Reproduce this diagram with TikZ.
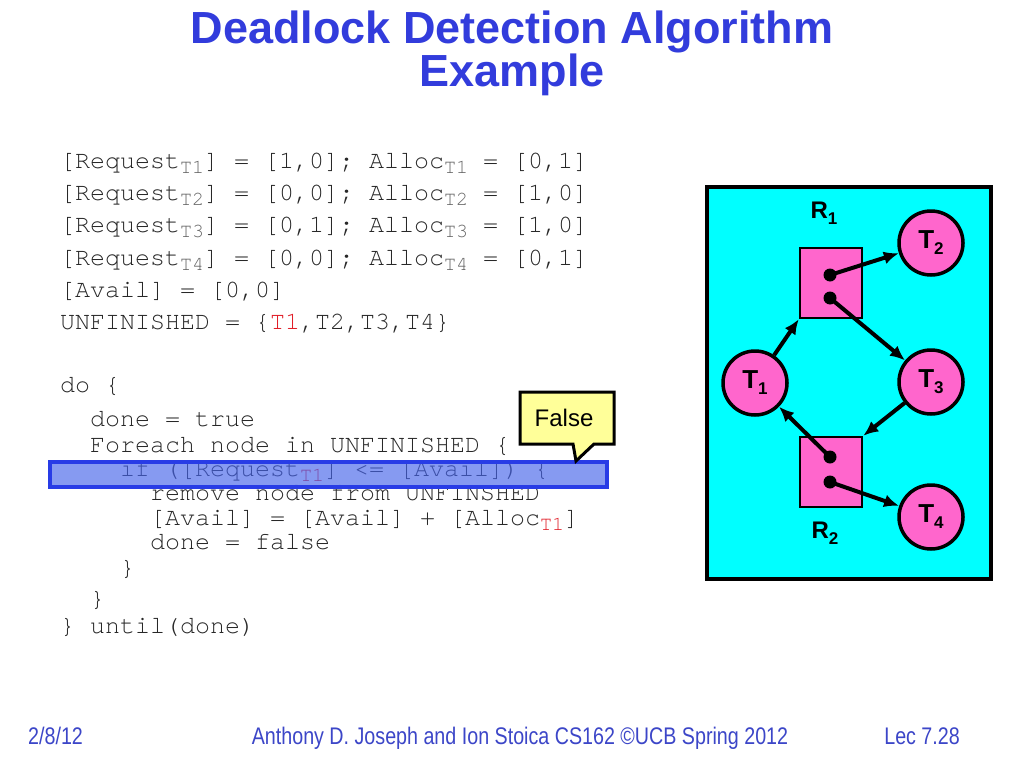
\documentclass[tikz,border=0pt]{standalone}
\usepackage{fontspec}
\setmainfont{Liberation Sans}
\newfontfamily\codefont{TeX Gyre Cursor}
\usetikzlibrary{arrows.meta}
\definecolor{titleblue}{RGB}{50,60,220}
\definecolor{footblue}{RGB}{60,70,200}
\definecolor{codegray}{RGB}{40,40,40}
\definecolor{subgray}{RGB}{100,100,100}
\definecolor{panelcyan}{RGB}{0,255,255}
\definecolor{nodepink}{RGB}{255,102,204}
\definecolor{hlblue}{RGB}{70,100,235}
\definecolor{hledge}{RGB}{40,60,230}
\definecolor{callyellow}{RGB}{255,255,153}
\definecolor{codered}{RGB}{225,30,40}
\newcommand{\codesub}[2][subgray]{\raisebox{-5pt}{\fontsize{20}{20}\selectfont\textcolor{#1}{#2}}}
\newcommand{\lblsub}[1]{\raisebox{-6pt}{\fontsize{17}{17}\selectfont #1}}
\tikzset{
  code/.style={anchor=base west, inner sep=0pt, text=codegray,
    font=\codefont\fontsize{25}{25}\selectfont},
  titletext/.style={anchor=base, inner sep=0pt, text=titleblue,
    font=\bfseries\fontsize{45}{45}\selectfont},
  foot/.style={inner sep=0pt, text=footblue, font=\fontsize{24}{24}\selectfont},
  proc/.style={circle, draw=black, line width=3.5pt, fill=nodepink,
    minimum size=64pt, inner sep=0pt, font=\bfseries\fontsize{26}{26}\selectfont},
  res/.style={rectangle, draw=black, line width=2.5pt, fill=nodepink,
    minimum width=62pt, minimum height=70pt, inner sep=0pt},
  rlabel/.style={inner sep=0pt, font=\bfseries\fontsize{24}{24}\selectfont},
  tok/.style={circle, fill=black, minimum size=13pt, inner sep=0pt},
  edge/.style={line width=4pt, -{Latex[length=15pt,width=13pt]}}
}
\begin{document}
\begin{tikzpicture}[x=1pt,y=-1pt]
\useasboundingbox[fill=white] (0,0) rectangle (1024,768);

% title
\node[titletext] (title1) at (512,44) {Deadlock Detection Algorithm};
\node[titletext] (title2) at (512,86) {Example};

% code: initial state
\node[code] (c1) at (60,168) {[Request\codesub{T1}] = [1,0]; Alloc\codesub{T1} = [0,1]};
\node[code] (c2) at (60,200) {[Request\codesub{T2}] = [0,0]; Alloc\codesub{T2} = [1,0]};
\node[code] (c3) at (60,232) {[Request\codesub{T3}] = [0,1]; Alloc\codesub{T3} = [1,0]};
\node[code] (c4) at (60,265) {[Request\codesub{T4}] = [0,0]; Alloc\codesub{T4} = [0,1]};
\node[code] (c5) at (60,297) {[Avail] = [0,0]};
\node[code] (c6) at (60,329) {UNFINISHED = \{\textcolor{codered}{T1},T2,T3,T4\}};

% code: loop
\node[code] (d1) at (60,392) {do \{};
\node[code] (d2) at (90,426) {done = true};
\node[code] (d3) at (90,452) {Foreach node in UNFINISHED \{};
\node[code] (d4) at (120,476) {if ([Request\codesub[codered]{T1}] <= [Avail]) \{};
\node[code] (d5) at (150,500) {remove node from UNFINSHED};
\node[code] (d6) at (150,525) {[Avail] = [Avail] + [Alloc\codesub[codered]{T1}]};
\node[code] (d7) at (150,549) {done = false};
\node[code] (d8) at (120,575) {\}};
\node[code] (d9) at (90,606) {\}};
\node[code] (d10) at (60,633) {\} until(done)};

% highlight bar
\draw[draw=hledge, line width=3.5pt, fill=hlblue, fill opacity=0.65] (50,462) rectangle (607,487);

% callout
\draw[line width=3pt, fill=callyellow, line join=miter]
  (520,392) -- (614,392) -- (614,444) -- (594,444) -- (576,461) -- (573,444) -- (520,444) -- cycle;
\node[inner sep=0pt, font=\fontsize{24}{24}\selectfont] (false) at (564,418) {False};

% right panel
\draw[line width=3.5pt, fill=panelcyan] (707,187) rectangle (991,579);
\node[res] (R1) at (831,283) {};
\node[res] (R2) at (831,472) {};
\node[rlabel] (R1l) at (824,213) {R\lblsub{1}};
\node[rlabel] (R2l) at (825,533) {R\lblsub{2}};
\node[tok] (a1) at (830,275) {};
\node[tok] (a2) at (830,298) {};
\node[tok] (b1) at (830,457) {};
\node[tok] (b2) at (830,482) {};
\node[proc] (T1) at (755,383) {T\lblsub{1}};
\node[proc] (T2) at (931,243) {T\lblsub{2}};
\node[proc] (T3) at (931,382) {T\lblsub{3}};
\node[proc] (T4) at (931,517) {T\lblsub{4}};

\draw[edge] (a1.center) -- (T2);
\draw[edge] (a2.center) -- (T3);
\draw[edge] (T1) -- (R1.south west);
\draw[edge] (T3) -- (R2.north east);
\draw[edge] (b1.center) -- (T1);
\draw[edge] (b2.center) -- (T4);

% footer
\node[foot, anchor=base west] (f1) at (28,744) {\scalebox{0.82}[1]{2/8/12}};
\node[foot, anchor=base] (f2) at (520,744) {\scalebox{0.82}[1]{Anthony D. Joseph and Ion Stoica CS162 ©UCB Spring 2012}};
\node[foot, anchor=base east] (f3) at (960,744) {\scalebox{0.82}[1]{Lec 7.28}};
\end{tikzpicture}
\end{document}
